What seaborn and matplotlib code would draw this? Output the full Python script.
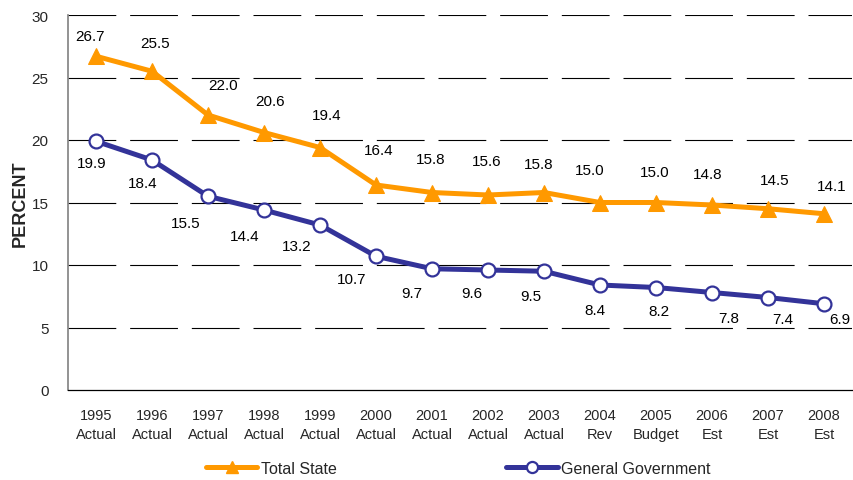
import matplotlib
matplotlib.use("Agg")
import matplotlib.pyplot as plt
import seaborn as sns
import pandas as pd
from matplotlib.lines import Line2D
from matplotlib.ticker import FixedLocator

years = ["1995", "1996", "1997", "1998", "1999", "2000", "2001", "2002",
         "2003", "2004", "2005", "2006", "2007", "2008"]
kinds = ["Actual", "Actual", "Actual", "Actual", "Actual", "Actual", "Actual",
         "Actual", "Actual", "Rev", "Budget", "Est", "Est", "Est"]
total_state = [26.7, 25.5, 22.0, 20.6, 19.4, 16.4, 15.8, 15.6, 15.8, 15.0, 15.0, 14.8, 14.5, 14.1]
general_gov = [19.9, 18.4, 15.5, 14.4, 13.2, 10.7, 9.7, 9.6, 9.5, 8.4, 8.2, 7.8, 7.4, 6.9]

# label offsets in pixels (styling)
ts_off = [(-6, 20), (3, 28), (15, 30), (6, 31), (7, 33), (3, 35), (-1, 33), (-1, 34),
          (-5, 28), (-10, 32), (-1, 30), (-4, 31), (7, 29), (8, 28)]
gg_off = [(-4, -22), (-9, -23), (-22, -27), (-19, -26), (-23, -21), (-24, -23), (-20, -24),
          (-16, -23), (-13, -25), (-5, -25), (3, -24), (17, -26), (15, -22), (16, -15)]

cats = [f"{y}\n{k}" for y, k in zip(years, kinds)]
df = pd.DataFrame({"cat": cats, "Total State": total_state, "General Government": general_gov})

sns.set_style("white")
plt.rcParams["font.family"] = ["Liberation Sans", "DejaVu Sans"]

DPI = 100
fig = plt.figure(figsize=(8.54, 4.81), dpi=DPI)
ax = fig.add_axes([68 / 854, 90 / 481, 784 / 854, 375 / 481])

ORANGE = "#FF9900"
BLUE = "#333399"

sns.lineplot(data=df, x="cat", y="Total State", ax=ax, sort=False, color=ORANGE,
             linewidth=3.6, marker="^", markersize=11, markeredgecolor=ORANGE, zorder=4)
sns.lineplot(data=df, x="cat", y="General Government", ax=ax, sort=False, color=BLUE,
             linewidth=3.6, marker="o", markersize=10, markerfacecolor="white",
             markeredgecolor=BLUE, markeredgewidth=1.6, zorder=5)

px = 72 / DPI
for i, v in enumerate(total_state):
    dx, dy = ts_off[i]
    ax.annotate(f"{v:.1f}", (i, v), xytext=(dx * px, dy * px), textcoords="offset points",
                ha="center", va="center", fontsize=11, color="black", zorder=6)
for i, v in enumerate(general_gov):
    dx, dy = gg_off[i]
    ax.annotate(f"{v:.1f}", (i, v), xytext=(dx * px, dy * px), textcoords="offset points",
                ha="center", va="center", fontsize=11, color="black", zorder=6)

ax.set_xlim(-0.5, len(cats) - 0.5)
ax.set_ylim(0, 30)
ax.set_yticks(range(0, 31, 5))

lw = 0.8
for yv in range(5, 31, 5):
    ax.axhline(yv, color="black", linewidth=lw, linestyle=(0, (43, 12.5)), zorder=1)

ax.set_xticks(range(len(cats)))
ax.set_xticklabels(cats, fontsize=10.5, linespacing=1.45)
ax.xaxis.set_minor_locator(FixedLocator([i - 0.5 for i in range(len(cats) + 1)]))
ax.tick_params(axis="x", which="major", length=0, pad=13)
ax.tick_params(axis="x", which="minor", length=5, width=0.8, color="black", direction="out")
ax.tick_params(axis="y", which="major", length=5, width=0.8, color="black",
               direction="out", labelsize=11, pad=9)

for s in ["top", "right"]:
    ax.spines[s].set_visible(False)
ax.spines["left"].set_color("#808080")
ax.spines["left"].set_linewidth(1.2)
ax.spines["bottom"].set_color("black")
ax.spines["bottom"].set_linewidth(0.9)

ax.set_xlabel("")
ax.set_ylabel("PERCENT", fontsize=13, fontweight="bold", labelpad=2)

handles = [
    Line2D([], [], color=ORANGE, linewidth=3.6, marker="^", markersize=9,
           markeredgecolor=ORANGE),
    Line2D([], [], color=BLUE, linewidth=3.6, marker="o", markersize=8,
           markerfacecolor="white", markeredgecolor=BLUE, markeredgewidth=1.6),
]
fig.legend(handles, ["Total State", "General Government"], loc="center",
           bbox_to_anchor=(0.5363, 0.024), ncol=2, frameon=False, fontsize=11.5,
           handlelength=3.25, handletextpad=0.2, columnspacing=10.6)

fig.savefig("out.png", dpi=DPI)
